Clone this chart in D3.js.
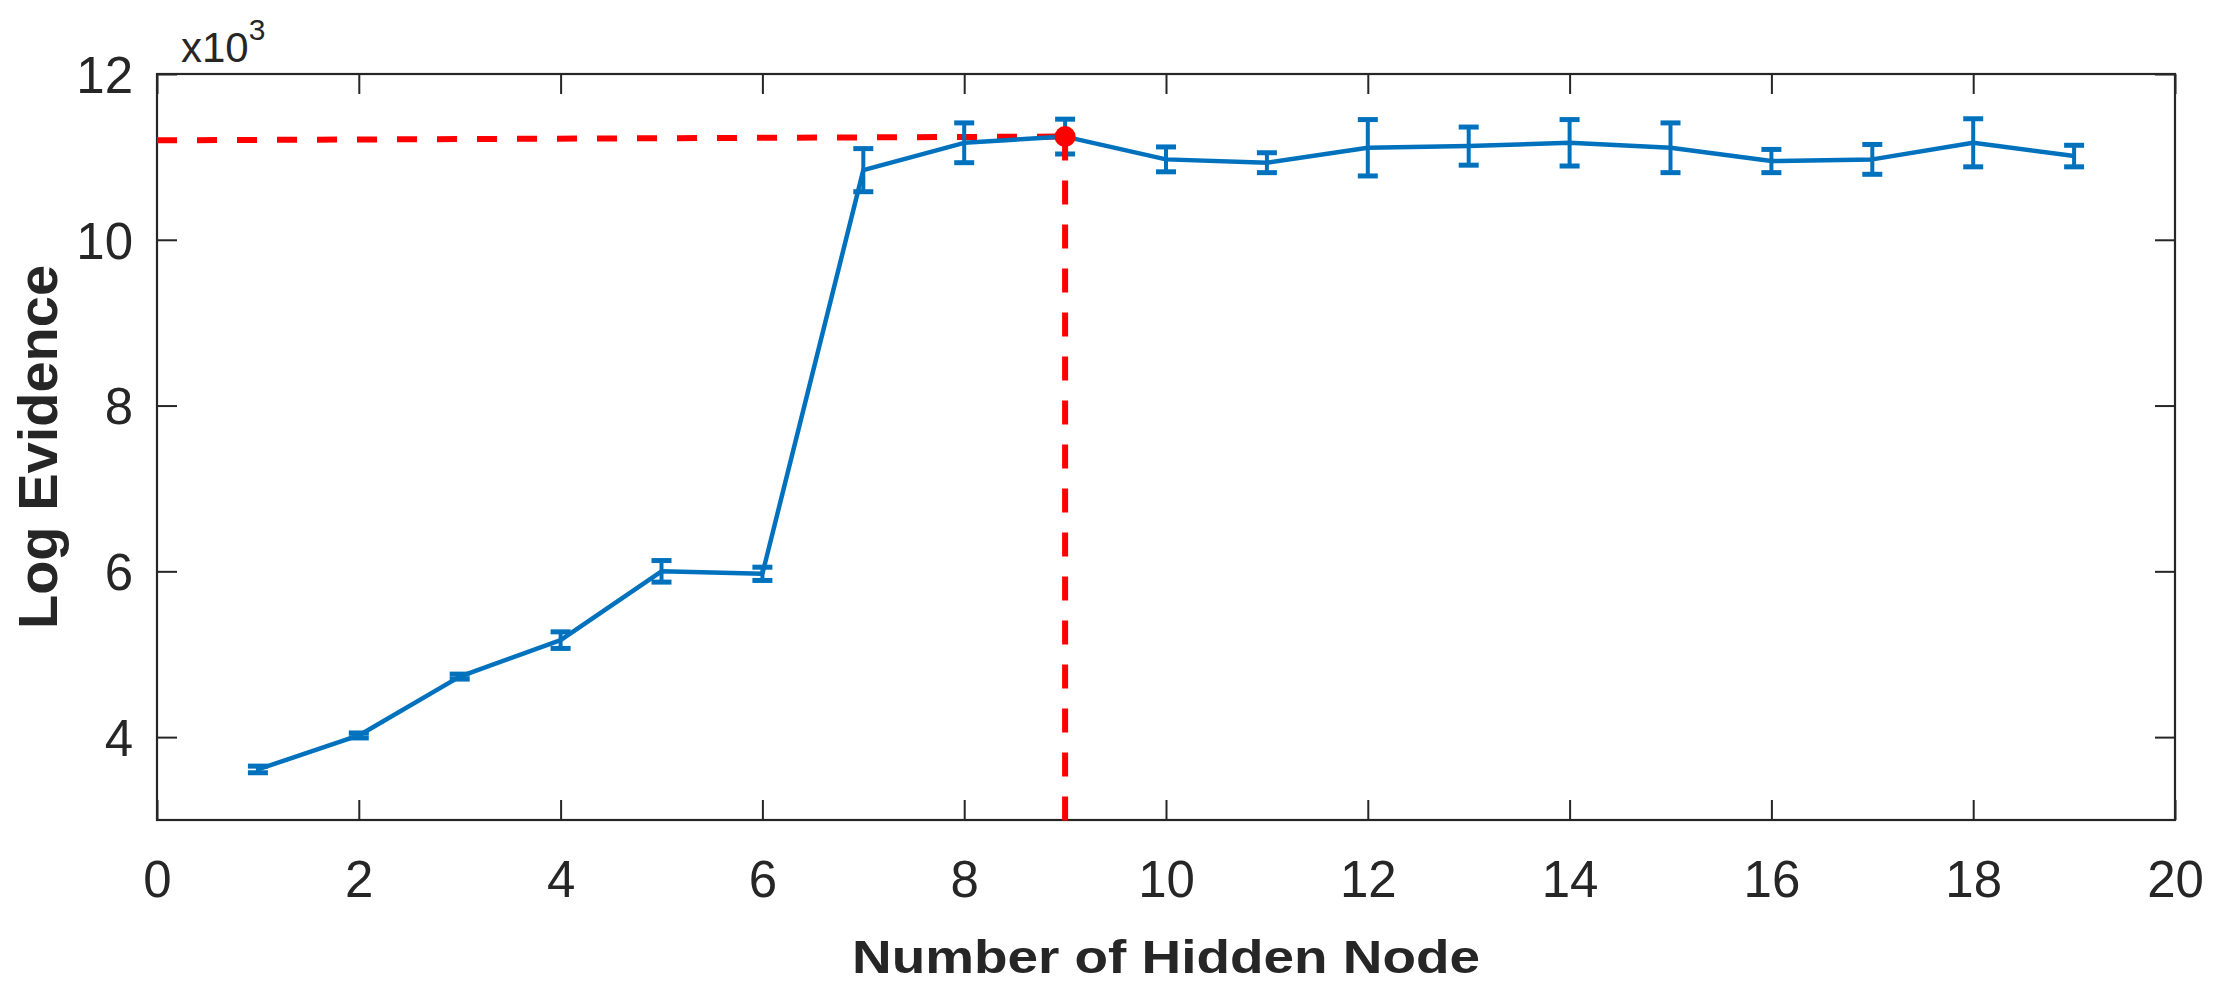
<!DOCTYPE html>
<html>
<head>
<meta charset="utf-8">
<script src="https://cdn.jsdelivr.net/npm/d3@7"></script>
<style>
  html, body { margin: 0; padding: 0; background: #ffffff; }
  svg { display: block; }
  text { font-family: "Liberation Sans", Arial, Helvetica, sans-serif; fill: #262626; }
</style>
</head>
<body>
<svg id="chart" width="2239" height="995"></svg>
<script>
// ---- data (values in units of 10^3) ----
const hiddenNodes = [1, 2, 3, 4, 5, 6, 7, 8, 9, 10, 11, 12, 13, 14, 15, 16, 17, 18, 19];
const logEvidence = [3.61, 4.02, 4.73, 5.17, 6.00, 5.97, 10.84, 11.17, 11.245, 10.97, 10.93, 11.11, 11.13, 11.17, 11.11, 10.95, 10.97, 11.17, 11.01];
const errorHalf   = [0.04, 0.03, 0.03, 0.10, 0.13, 0.08, 0.26, 0.24, 0.21, 0.15, 0.12, 0.34, 0.23, 0.28, 0.30, 0.14, 0.18, 0.29, 0.13];
const xTicks = [0, 2, 4, 6, 8, 10, 12, 14, 16, 18, 20];
const yTicks = [4, 6, 8, 10, 12];
const xDomain = [0, 20];
const yDomain = [3, 12];
const bestNode = 9;
const bestValue = 11.245;
const guideStartValue = 11.20;
const xLabel = "Number of Hidden Node";
const yLabel = "Log Evidence";

// ---- layout ----
const svg = d3.select("#chart");
const L = 157, R = 2175, T = 74, B = 820;
const axisColor = "#262626";
const lineColor = "#0072BD";

const x = d3.scaleLinear().domain(xDomain).range([L, R]);
const y = d3.scaleLinear().domain(yDomain).range([B, T]);

const tickLen = 20;
const fmt = d => String(d);

// bottom axis (ticks inward)
const gB = svg.append("g").attr("transform", `translate(0,${B})`)
  .call(d3.axisBottom(x).tickValues(xTicks).tickSize(-tickLen).tickPadding(tickLen + 18).tickFormat(fmt));
// top axis
const gT = svg.append("g").attr("transform", `translate(0,${T})`)
  .call(d3.axisTop(x).tickValues(xTicks).tickSize(-tickLen).tickFormat(""));
// left axis
const gL = svg.append("g").attr("transform", `translate(${L},0)`)
  .call(d3.axisLeft(y).tickValues(yTicks).tickSize(-tickLen).tickPadding(tickLen + 4).tickFormat(fmt));
// right axis
const gR = svg.append("g").attr("transform", `translate(${R},0)`)
  .call(d3.axisRight(y).tickValues(yTicks).tickSize(-tickLen).tickFormat(""));

[gB, gT, gL, gR].forEach(g => {
  g.select(".domain").remove();
  g.selectAll(".tick line").attr("stroke", axisColor).attr("stroke-width", 2);
  g.selectAll(".tick text").attr("fill", axisColor)
    .style("font-family", '"Liberation Sans", Arial, sans-serif')
    .style("font-size", "51px");
});
gB.selectAll(".tick text").attr("dy", null).attr("dominant-baseline", "auto")
  .attr("y", 897 - B);
gL.selectAll(".tick text").attr("dy", "0.36em");

// frame
svg.append("rect").attr("x", L).attr("y", T).attr("width", R - L).attr("height", B - T)
  .attr("fill", "none").attr("stroke", axisColor).attr("stroke-width", 2.2);

// exponent label
const expT = svg.append("text").attr("x", 181).attr("y", 62)
  .style("font-size", "42px");
expT.append("tspan").text("x10");
expT.append("tspan").attr("dy", -22).style("font-size", "30px").text("3");

// red guide line (horizontal)
svg.append("line")
  .attr("x1", x(xDomain[0])).attr("y1", y(guideStartValue))
  .attr("x2", x(bestNode)).attr("y2", y(bestValue))
  .attr("stroke", "#ff0000").attr("stroke-width", 6).attr("stroke-dasharray", "20,20");

// series line
const data = hiddenNodes.map((n, i) => ({ n, v: logEvidence[i], e: errorHalf[i] }));
svg.append("path").datum(data)
  .attr("fill", "none").attr("stroke", lineColor).attr("stroke-width", 4.5)
  .attr("stroke-linejoin", "round")
  .attr("d", d3.line().x(d => x(d.n)).y(d => y(d.v)));

// error bars
const eb = svg.append("g").attr("stroke", lineColor);
const capHalf = 10;
eb.selectAll("line.v").data(data).join("line").attr("class", "v")
  .attr("x1", d => x(d.n)).attr("x2", d => x(d.n))
  .attr("y1", d => y(d.v - d.e)).attr("y2", d => y(d.v + d.e))
  .attr("stroke-width", 4);
eb.selectAll("line.ct").data(data).join("line").attr("class", "ct")
  .attr("x1", d => x(d.n) - capHalf).attr("x2", d => x(d.n) + capHalf)
  .attr("y1", d => y(d.v + d.e)).attr("y2", d => y(d.v + d.e))
  .attr("stroke-width", 5);
eb.selectAll("line.cb").data(data).join("line").attr("class", "cb")
  .attr("x1", d => x(d.n) - capHalf).attr("x2", d => x(d.n) + capHalf)
  .attr("y1", d => y(d.v - d.e)).attr("y2", d => y(d.v - d.e))
  .attr("stroke-width", 5);

// vertical red guide and best point
svg.append("line")
  .attr("x1", x(bestNode)).attr("y1", y(bestValue))
  .attr("x2", x(bestNode)).attr("y2", y(yDomain[0]) + 6)
  .attr("stroke", "#ff0000").attr("stroke-width", 6).attr("stroke-dasharray", "24,20");
svg.append("circle").attr("cx", x(bestNode)).attr("cy", y(bestValue)).attr("r", 10.5)
  .attr("fill", "#ff0000");

// axis labels
svg.append("text").attr("x", (L + R) / 2).attr("y", 973)
  .attr("text-anchor", "middle")
  .attr("textLength", 628).attr("lengthAdjust", "spacingAndGlyphs")
  .style("font-size", "47px").style("font-weight", "bold").text(xLabel);
svg.append("text")
  .attr("transform", `translate(57,${(T + B) / 2}) rotate(-90)`)
  .attr("text-anchor", "middle")
  .style("font-size", "56px").style("font-weight", "bold").text(yLabel);
</script>
</body>
</html>
